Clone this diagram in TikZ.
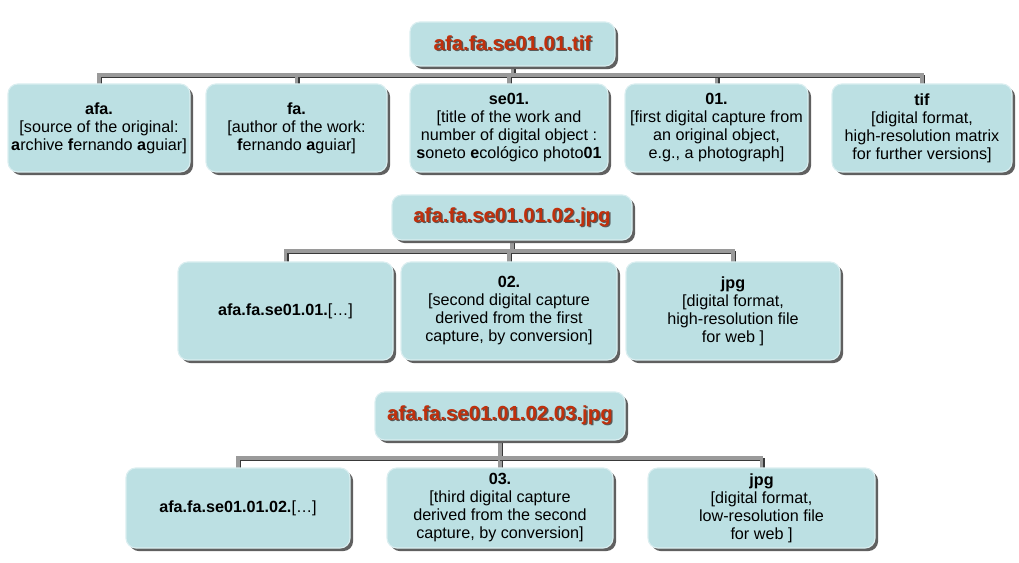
\documentclass[tikz,border=0pt]{standalone}
\usepackage{fontspec}
\setmainfont{Liberation Sans}
\usepackage{tikz}
\usetikzlibrary{shadows}
\definecolor{boxblue}{HTML}{BCE0E3}
\definecolor{titlered}{HTML}{C0300C}
\definecolor{busgray}{HTML}{9A9A9A}
\pgfdeclarelayer{background}
\pgfsetlayers{background,main}
\newcommand{\shtext}[1]{\makebox[0pt][l]{\raisebox{-1pt}{\hspace{1pt}\textcolor{black!65}{#1}}}\textcolor{titlered}{#1}}
\tikzset{
	boxsize/.style 2 args={minimum width=#1*0.025cm, minimum height=#2*0.025cm},
	card/.style={rounded corners=7pt, fill=boxblue, draw=boxblue!55!white, line width=0.8pt,
		outer sep=0pt, inner sep=2pt, align=center,
		drop shadow={shadow xshift=2.2pt, shadow yshift=-2.2pt, fill=gray!75!black, opacity=1}},
	leaf/.style={card, font=\fontsize{11.5}{12.8}\selectfont},
	title/.style={card, font=\fontsize{14.5}{16}\selectfont\bfseries},
	bus/.style={line width=2.6pt, draw=busgray,
		preaction={draw=gray!45!black, line width=2.6pt, transform canvas={shift={(1pt,-1pt)}}}}
}

\begin{document}
\begin{tikzpicture}[x=0.025cm, y=-0.025cm]
			%%%%% START %%%%%
			\useasboundingbox (0,0) rectangle (1019,563);
			
			% first capture
			\node[title, boxsize={205}{44}] (tif-title) at (512.5,44) {\shtext{afa.fa.se01.01.tif}};
			\node[leaf, boxsize={182}{88}] (afa) at (99,128) {\textbf{afa.}\\{}[source of the original:\\\textbf{a}rchive \textbf{f}ernando \textbf{a}guiar]};
			\node[leaf, boxsize={181}{88}] (fa) at (296.5,128) {\textbf{fa.}\\{}[author of the work:\\\textbf{f}ernando \textbf{a}guiar]};
			\node[leaf, boxsize={198}{88}] (se01) at (509,128) {\textbf{se01.}\\{}[title of the work and\\number of digital object :\\\textbf{s}oneto \textbf{e}cológico photo\textbf{01}};
			\node[leaf, boxsize={183}{88}] (cap01) at (716.5,128) {\textbf{01.}\\{}[first digital capture from\\an original object,\\e.g., a photograph]};
			\node[leaf, boxsize={180}{88}] (tif) at (922,128) {\textbf{tif}\\{}[digital format,\\high-resolution matrix\\for further versions]};
			
			% second capture
			\node[title, boxsize={240}{45}] (jpg-title) at (512,217.5) {\shtext{afa.fa.se01.01.02.jpg}};
			\node[leaf, boxsize={215}{98}] (base01) at (285.5,311) {\textbf{afa.fa.se01.01.}[…]};
			\node[leaf, boxsize={216}{98}] (cap02) at (509,311) {\textbf{02.}\\{}[second digital capture\\derived from the first\\capture, by conversion]};
			\node[leaf, boxsize={214}{98}] (jpg-hi) at (733,311) {\textbf{jpg}\\{}[digital format,\\high-resolution file\\for web ]};
			
			% third capture
			\node[title, boxsize={250}{48}] (web-title) at (500,416) {\shtext{afa.fa.se01.01.02.03.jpg}};
			\node[leaf, boxsize={224}{80}] (base02) at (238,508) {\textbf{afa.fa.se01.01.02.}[…]};
			\node[leaf, boxsize={226}{80}] (cap03) at (500,508) {\textbf{03.}\\{}[third digital capture\\derived from the second\\capture, by conversion]};
			\node[leaf, boxsize={227}{80}] (jpg-lo) at (761.5,508) {\textbf{jpg}\\{}[digital format,\\low-resolution file\\for web ]};
			
			\begin{pgfonlayer}{background}
				\foreach \child in {afa,fa,se01,cap01,tif}
					\draw[bus] (tif-title.south) -- ++(0,9) -| (\child.north);
				\foreach \child in {base01,cap02,jpg-hi}
					\draw[bus] (jpg-title.south) -- ++(0,11) -| (\child.north);
				\foreach \child in {base02,cap03,jpg-lo}
					\draw[bus] (web-title.south) -- ++(0,18) -| (\child.north);
			\end{pgfonlayer}
			
			%%%%% END %%%%%
\end{tikzpicture}
\end{document}
